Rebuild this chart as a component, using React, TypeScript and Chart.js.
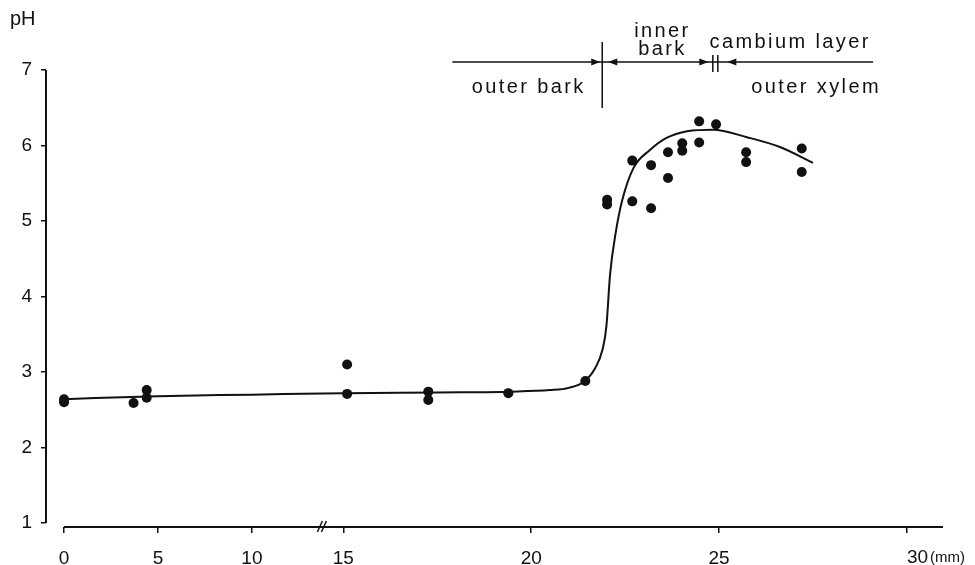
import React, { useEffect, useRef } from 'react';
import { Chart, registerables, LinearScale } from 'chart.js';

Chart.register(...registerables);

// ---------- data ----------
const curveX = [0, 5, 10, 15, 17.5, 19.5, 20.5, 21.0, 21.4, 21.7, 21.9, 22.0, 22.1, 22.25, 22.42, 22.72, 23.16, 23.6, 24.15, 24.84, 25.74, 26.62, 27.5];
const curveY = [2.64, 2.68, 2.7, 2.72, 2.73, 2.74, 2.76, 2.79, 2.87, 3.05, 3.3, 3.6, 4.3, 4.85, 5.27, 5.7, 5.94, 6.1, 6.19, 6.21, 6.11, 5.98, 5.77];

const pointX = [0, 0, 3.7, 4.4, 4.4, 15.1, 15.1, 17.26, 17.26, 19.39, 21.44, 22.02, 22.02, 22.69, 22.69, 23.19, 23.19, 23.64, 23.64, 24.02, 24.02, 24.47, 24.47, 24.92, 25.72, 25.72, 27.2, 27.2];
const pointY = [2.64, 2.6, 2.59, 2.76, 2.66, 3.1, 2.71, 2.74, 2.63, 2.72, 2.88, 5.28, 5.22, 5.8, 5.26, 5.74, 5.17, 5.91, 5.57, 6.03, 5.93, 6.32, 6.04, 6.28, 5.91, 5.78, 5.96, 5.65];

const xTickValues = [0, 5, 10, 15, 20, 25, 30];
const yTickValues = [1, 2, 3, 4, 5, 6, 7];

const tissueLabels = ['outer bark', 'inner', 'bark', 'cambium layer', 'outer xylem'];

// ---------- axis-break transform (left part compressed 2:1) ----------
const BREAK_A = 13.7;
const BREAK_B = 14.43;
const fwd = (v: number) =>
  v <= BREAK_A ? v : v >= BREAK_B ? 14.87 + 2 * (v - 15) : BREAK_A + (v - BREAK_A) * 0.04;
const inv = (u: number) =>
  u <= BREAK_A ? u : u >= 13.7292 ? 15 + (u - 14.87) / 2 : BREAK_A + (u - BREAK_A) / 0.04;

class BrokenLinearScale extends LinearScale {
  static id = 'brokenLinear';
  getPixelForValue(value: any) {
    if (value === null || value === undefined || isNaN(value)) return NaN;
    const a = fwd((this as any).min);
    const b = fwd((this as any).max);
    return this.getPixelForDecimal((fwd(value) - a) / (b - a));
  }
  getValueForPixel(pixel: number) {
    const a = fwd((this as any).min);
    const b = fwd((this as any).max);
    return inv(a + this.getDecimalForPixel(pixel) * (b - a));
  }
}
Chart.register(BrokenLinearScale as any);

const INK = '#111';
const FONT = 'Liberation Sans, Arial, sans-serif';

const X_MIN = -0.96;
const X_MAX = 30.96;
const Y_MIN = 0.947;
const Y_MAX = 7;

// annotation anchors (mm)
const DIVIDER_X = 21.89;
const CAMBIUM_X = 24.9;
const ANN_START = 17.9;
const ANN_END = 29.1;

const decorPlugin = {
  id: 'decor',
  afterDraw(chart: any) {
    const { ctx, chartArea } = chart;
    const xs = chart.scales.x;
    const ys = chart.scales.y;
    ctx.save();
    ctx.strokeStyle = INK;
    ctx.fillStyle = INK;

    // y axis line
    ctx.lineWidth = 2;
    ctx.beginPath();
    ctx.moveTo(chartArea.left, ys.getPixelForValue(7));
    ctx.lineTo(chartArea.left, ys.getPixelForValue(1));
    ctx.stroke();

    // x axis line
    const xb = chartArea.bottom;
    ctx.beginPath();
    ctx.moveTo(xs.getPixelForValue(0), xb);
    ctx.lineTo(chartArea.right, xb);
    ctx.stroke();

    // axis break mark
    const bx = xs.getPixelForValue(BREAK_A) + 1;
    ctx.lineWidth = 1.5;
    ctx.beginPath();
    ctx.moveTo(bx - 5, xb + 5);
    ctx.lineTo(bx, xb - 6);
    ctx.moveTo(bx - 1, xb + 5);
    ctx.lineTo(bx + 4, xb - 6);
    ctx.stroke();

    // pH label
    ctx.font = `20px ${FONT}`;
    ctx.textAlign = 'left';
    ctx.textBaseline = 'alphabetic';
    ctx.fillText('pH', 10, 25);

    // 30 (mm)
    ctx.font = `19px ${FONT}`;
    const x30 = xs.getPixelForValue(30);
    ctx.fillText('30', x30, 563);
    const w30 = ctx.measureText('30').width;
    ctx.font = `15px ${FONT}`;
    ctx.fillText('(mm)', x30 + w30 + 2, 562);

    // tissue annotation
    const lineY = ys.getPixelForValue(7) - 8;
    const pxDiv = xs.getPixelForValue(DIVIDER_X);
    const pxCam = xs.getPixelForValue(CAMBIUM_X);
    ctx.lineWidth = 1.5;
    ctx.beginPath();
    ctx.moveTo(xs.getPixelForValue(ANN_START), lineY);
    ctx.lineTo(xs.getPixelForValue(ANN_END), lineY);
    ctx.moveTo(pxDiv, lineY - 20);
    ctx.lineTo(pxDiv, lineY + 46);
    ctx.moveTo(pxCam - 2.5, lineY - 7);
    ctx.lineTo(pxCam - 2.5, lineY + 10);
    ctx.moveTo(pxCam + 2.5, lineY - 7);
    ctx.lineTo(pxCam + 2.5, lineY + 10);
    ctx.stroke();

    const arrow = (tip: number, dir: number) => {
      ctx.beginPath();
      ctx.moveTo(tip, lineY);
      ctx.lineTo(tip - dir * 9, lineY - 3.5);
      ctx.lineTo(tip - dir * 9, lineY + 3.5);
      ctx.closePath();
      ctx.fill();
    };
    arrow(pxDiv - 2, 1);
    arrow(pxDiv + 6, -1);
    arrow(pxCam - 7, 1);
    arrow(pxCam + 12, -1);

    ctx.font = `20px ${FONT}`;
    (ctx as any).letterSpacing = '2.4px';
    ctx.textAlign = 'center';
    const txt = (s: string, mm: number, y: number) => ctx.fillText(s, xs.getPixelForValue(mm) + 1.2, y);
    txt(tissueLabels[0], 19.9, lineY + 31);
    txt(tissueLabels[1], 23.46, lineY - 25);
    txt(tissueLabels[2], 23.46, lineY - 7);
    txt(tissueLabels[3], 26.86, lineY - 14);
    txt(tissueLabels[4], 27.55, lineY + 31);
    (ctx as any).letterSpacing = '0px';
    ctx.restore();
  },
};

export default function App() {
  const ref = useRef<HTMLCanvasElement | null>(null);
  useEffect(() => {
    if (!ref.current) return;
    const chart = new Chart(ref.current, {
      type: 'scatter',
      data: {
        datasets: [
          {
            label: 'fit',
            data: curveX.map((x, i) => ({ x, y: curveY[i] })),
            showLine: true,
            borderColor: INK,
            borderWidth: 2,
            pointRadius: 0,
            cubicInterpolationMode: 'monotone',
            fill: false,
          } as any,
          {
            label: 'pH',
            data: pointX.map((x, i) => ({ x, y: pointY[i] })),
            showLine: false,
            pointRadius: 5,
            pointBackgroundColor: INK,
            pointBorderWidth: 0,
            backgroundColor: INK,
          },
        ],
      },
      options: {
        animation: false,
        responsive: true,
        maintainAspectRatio: false,
        events: [],
        layout: { padding: { top: 70, right: 32, left: 0, bottom: 0 } },
        plugins: { legend: { display: false }, tooltip: { enabled: false } },
        scales: {
          x: {
            type: 'brokenLinear' as any,
            min: X_MIN,
            max: X_MAX,
            afterBuildTicks: (s: any) => {
              s.ticks = xTickValues.map((v) => ({ value: v }));
            },
            afterFit: (s: any) => {
              s.height = 38;
            },
            ticks: {
              autoSkip: false,
              maxRotation: 0,
              padding: 14,
              color: INK,
              font: { family: FONT, size: 19 },
              callback: (v: any) => (v === 30 ? '' : String(v)),
            },
            grid: { drawOnChartArea: false, drawTicks: true, tickLength: 6, color: INK, lineWidth: 1.5 },
            border: { display: false },
          } as any,
          y: {
            type: 'linear',
            min: Y_MIN,
            max: Y_MAX,
            afterBuildTicks: (s: any) => {
              s.ticks = yTickValues.map((v) => ({ value: v }));
            },
            afterFit: (s: any) => {
              s.width = 46;
            },
            ticks: {
              padding: 9,
              color: INK,
              font: { family: FONT, size: 19 },
              callback: (v: any) => String(v),
            },
            grid: { drawOnChartArea: false, drawTicks: true, tickLength: 5, color: INK, lineWidth: 1.5 },
            border: { display: false },
          },
        },
      },
      plugins: [decorPlugin],
    });
    return () => chart.destroy();
  }, []);
  return (
    <div style={{ position: 'fixed', left: 0, top: 0, width: 975, height: 565, background: '#fff' }}>
      <canvas ref={ref} />
    </div>
  );
}
